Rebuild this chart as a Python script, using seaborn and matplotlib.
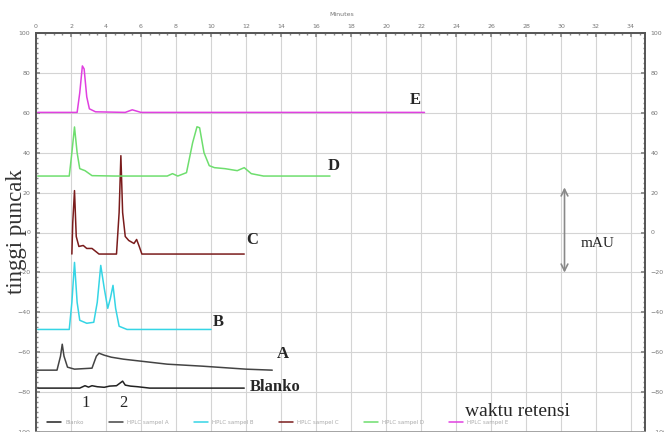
import numpy as np
import pandas as pd
import matplotlib
matplotlib.use("Agg")
import matplotlib.pyplot as plt
import seaborn as sns

# Retention time (minutes) and detector response (mAU) for each chromatogram
blanko_t = [0.1, 2.5, 2.8, 3.0, 3.2, 3.5, 3.9, 4.2, 4.6, 4.8, 4.95, 5.1, 5.4, 5.8, 6.5, 11.9]
blanko_v = [-78, -78, -76.8, -77.5, -76.8, -77.3, -77.6, -77.0, -76.8, -75.5, -74.5, -76.5, -77.0, -77.3, -78, -78]

a_t = [0.0, 1.2, 1.4, 1.5, 1.6, 1.8, 2.2, 3.2, 3.45, 3.6, 3.9, 4.3, 5.0, 6.0, 7.5, 9.5, 12.0, 13.5]
a_v = [-69, -69, -62, -56, -62, -67.5, -68.5, -68, -62, -60.5, -61.5, -62.5, -63.5, -64.5, -66, -67, -68.5, -69]

b_t = [0.1, 1.9, 2.05, 2.2, 2.35, 2.5, 2.9, 3.3, 3.5, 3.7, 3.9, 4.1, 4.25, 4.4, 4.55, 4.75, 5.2, 10.0]
b_v = [-48.6, -48.6, -35, -15, -35, -44, -45.5, -45, -35, -16.5, -28, -38, -33, -26.5, -38, -47, -48.6, -48.6]

c_t = [2.05, 2.1, 2.2, 2.3, 2.45, 2.7, 2.9, 3.2, 3.6, 4.6, 4.75, 4.85, 4.95, 5.1, 5.3, 5.6, 5.75, 5.9, 6.05, 6.3, 11.9]
c_v = [-10.8, 5, 21, -2, -7, -6.5, -8, -8, -10.8, -10.8, 10, 38.5, 10, -2, -4, -5.5, -3.5, -7, -10.8, -10.8, -10.8]

d_t = [0.1, 1.9, 2.05, 2.2, 2.35, 2.5, 2.8, 3.2, 4.5, 7.5, 7.8, 8.1, 8.6, 8.95, 9.2, 9.35, 9.6, 9.9,
       10.2, 10.8, 11.5, 11.9, 12.3, 13.0, 16.8]
d_v = [28.3, 28.3, 40, 52.9, 40, 32, 31, 28.5, 28.3, 28.3, 29.5, 28.3, 30, 45, 53, 52.5, 40, 33.5,
       32.5, 32, 31, 32.5, 29.5, 28.3, 28.3]

e_t = [0.1, 2.35, 2.5, 2.65, 2.75, 2.9, 3.05, 3.4, 5.1, 5.5, 6.0, 22.2]
e_v = [60.2, 60.2, 70, 83.5, 82, 68, 62, 60.5, 60.2, 61.5, 60.2, 60.2]

series_names = ["Blanko", "A", "B", "C", "D", "E"]
legend_names = ["Blanko", "HPLC sampel A", "HPLC sampel B", "HPLC sampel C", "HPLC sampel D", "HPLC sampel E"]
series_colors = ["#222222", "#444444", "#35d5e5", "#7a1c1c", "#6ede6e", "#e040e0"]
x_ticks = list(range(0, 35, 2))
y_ticks = list(range(-100, 101, 20))

frames = []
for name, t, v in zip(series_names,
                      [blanko_t, a_t, b_t, c_t, d_t, e_t],
                      [blanko_v, a_v, b_v, c_v, d_v, e_v]):
    frames.append(pd.DataFrame({"menit": t, "mAU": v, "sampel": name}))
df = pd.concat(frames, ignore_index=True)

sns.set_theme(style="white")
plt.rcParams["font.family"] = ["DejaVu Sans"]

fig = plt.figure(figsize=(6.64, 4.32), dpi=100)
ax = fig.add_axes([36 / 664, 0.0, (645 - 36) / 664, (432 - 33) / 432])

for name, col, lab in zip(series_names, series_colors, legend_names):
    sub = df[df["sampel"] == name]
    sns.lineplot(data=sub, x="menit", y="mAU", ax=ax, color=col, lw=1.1,
                 sort=False, estimator=None, label=lab)

ax.set_xlim(0, 34.8)
ax.set_ylim(-100, 100)
ax.set_xticks(x_ticks)
ax.set_yticks(y_ticks)
ax.set_xticks(np.arange(0, 34.8, 0.5), minor=True)
ax.set_yticks(np.arange(-100, 101, 2.5), minor=True)
ax.grid(True, which="major", color="#d4d4d4", lw=0.8)
ax.set_axisbelow(True)

ax.xaxis.tick_top()
ax.tick_params(axis="x", which="both", top=True, bottom=False, labeltop=True,
               labelbottom=False, labelsize=4.5, labelcolor="#777777", color="#888888",
               direction="in", length=3, pad=3)
ax.tick_params(axis="x", which="minor", length=1.5)
ax.tick_params(axis="y", which="both", left=True, right=True, labelleft=True, labelright=True,
               labelsize=4.5, labelcolor="#777777", color="#888888", direction="in", length=3, pad=4)
ax.tick_params(axis="y", which="minor", length=1.5)
ax.set_xlabel("")
ax.set_ylabel("")

for side in ["left", "top", "right"]:
    ax.spines[side].set_color("#555555")
    ax.spines[side].set_linewidth(1.4)
ax.spines["bottom"].set_color("#999999")

fig.text(342 / 664, 1 - 14 / 432, "Minutes", fontsize=4.5, color="#777777", ha="center", va="center")

# Trace labels
serif = ["Liberation Serif", "DejaVu Serif"]
for txt, x, y in [("E", 21.7, 66.5), ("D", 17.0, 33.3), ("C", 12.35, -3.8),
                  ("B", 10.4, -44.8), ("A", 14.1, -61.0)]:
    ax.text(x, y, txt, fontsize=12, fontweight="bold", family=serif, ha="center", va="center")
ax.text(12.2, -77.5, "Blanko", fontsize=12, fontweight="bold", family=serif, ha="left", va="center")
ax.text(2.86, -85.5, "1", fontsize=12, family=serif, ha="center", va="center")
ax.text(4.97, -85.5, "2", fontsize=12, family=serif, ha="center", va="center")

ax.text(27.5, -89.5, "waktu retensi", fontsize=14, family=serif, ha="center", va="center")

ax.annotate("", xy=(30.2, 24.0), xytext=(30.2, -21.5),
            arrowprops=dict(arrowstyle="<->", color="#888888", lw=1.2))
ax.text(32.1, -5.3, "mAU", fontsize=11, family=serif, ha="center", va="center")

fig.text(17 / 664, 1 - 232 / 432, "tinggi puncak", fontsize=16.5, family=serif,
         rotation=90, ha="center", va="center", color="#333333")

leg = ax.legend(loc="lower left", bbox_to_anchor=(0.01, 0.005), ncol=6, frameon=False,
                fontsize=4, handlelength=2.5, columnspacing=4.5, labelcolor="#aaaaaa")

fig.savefig("out.png", dpi=100)
